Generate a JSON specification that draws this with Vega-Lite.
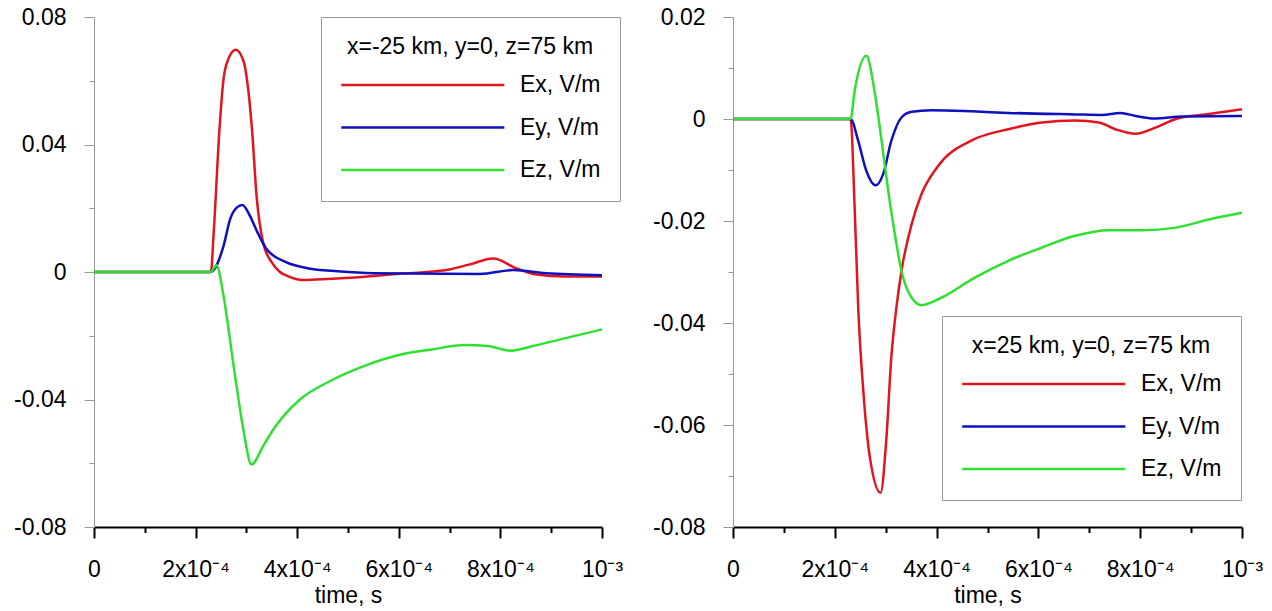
{
  "$schema": "https://vega.github.io/schema/vega-lite/v6.json",
  "background": "white",
  "padding": {"left": 13, "top": 6, "right": 5, "bottom": 0},
  "spacing": 29,
  "datasets": {
    "left": [
      {"t": 0, "c": "Ex", "E": 0},
      {"t": 0.00023, "c": "Ex", "E": 0},
      {"t": 0.000236, "c": "Ex", "E": 0.0134},
      {"t": 0.000247, "c": "Ex", "E": 0.0448},
      {"t": 0.000255, "c": "Ex", "E": 0.0605},
      {"t": 0.000262, "c": "Ex", "E": 0.0658},
      {"t": 0.000279, "c": "Ex", "E": 0.0697},
      {"t": 0.000295, "c": "Ex", "E": 0.0658},
      {"t": 0.000301, "c": "Ex", "E": 0.0605},
      {"t": 0.000311, "c": "Ex", "E": 0.0448},
      {"t": 0.00032, "c": "Ex", "E": 0.0239},
      {"t": 0.000333, "c": "Ex", "E": 0.0092},
      {"t": 0.00035, "c": "Ex", "E": 0.003},
      {"t": 0.000366, "c": "Ex", "E": 0},
      {"t": 0.00038, "c": "Ex", "E": -0.0012},
      {"t": 0.000412, "c": "Ex", "E": -0.0025},
      {"t": 0.00046, "c": "Ex", "E": -0.0022},
      {"t": 0.000504, "c": "Ex", "E": -0.0018},
      {"t": 0.000596, "c": "Ex", "E": -0.0006},
      {"t": 0.000694, "c": "Ex", "E": 0.0006},
      {"t": 0.00074, "c": "Ex", "E": 0.0024},
      {"t": 0.000786, "c": "Ex", "E": 0.0042},
      {"t": 0.000832, "c": "Ex", "E": 0.0011},
      {"t": 0.000871, "c": "Ex", "E": -0.0008},
      {"t": 0.000924, "c": "Ex", "E": -0.0014},
      {"t": 0.001, "c": "Ex", "E": -0.0014},
      {"t": 0, "c": "Ey", "E": 0},
      {"t": 0.00023, "c": "Ey", "E": 0},
      {"t": 0.000255, "c": "Ey", "E": 0.0082},
      {"t": 0.000268, "c": "Ey", "E": 0.0166},
      {"t": 0.000281, "c": "Ey", "E": 0.0202},
      {"t": 0.000292, "c": "Ey", "E": 0.021},
      {"t": 0.000307, "c": "Ey", "E": 0.0176},
      {"t": 0.000319, "c": "Ey", "E": 0.0134},
      {"t": 0.00034, "c": "Ey", "E": 0.0071},
      {"t": 0.000379, "c": "Ey", "E": 0.003},
      {"t": 0.00042, "c": "Ey", "E": 0.0012},
      {"t": 0.00048, "c": "Ey", "E": 0.0002},
      {"t": 0.00055, "c": "Ey", "E": -0.0004},
      {"t": 0.00076, "c": "Ey", "E": -0.0006},
      {"t": 0.000825, "c": "Ey", "E": 0.0006},
      {"t": 0.00089, "c": "Ey", "E": -0.0004},
      {"t": 0.001, "c": "Ey", "E": -0.001},
      {"t": 0, "c": "Ez", "E": 0},
      {"t": 0.00023, "c": "Ez", "E": 0},
      {"t": 0.000241, "c": "Ez", "E": 0.0021},
      {"t": 0.000255, "c": "Ez", "E": -0.0075},
      {"t": 0.000274, "c": "Ez", "E": -0.0285},
      {"t": 0.000294, "c": "Ez", "E": -0.0494},
      {"t": 0.00031, "c": "Ez", "E": -0.0604},
      {"t": 0.000333, "c": "Ez", "E": -0.0546},
      {"t": 0.000353, "c": "Ez", "E": -0.0494},
      {"t": 0.000373, "c": "Ez", "E": -0.0452},
      {"t": 0.000406, "c": "Ez", "E": -0.0399},
      {"t": 0.000465, "c": "Ez", "E": -0.0342},
      {"t": 0.000535, "c": "Ez", "E": -0.0293},
      {"t": 0.000596, "c": "Ez", "E": -0.0262},
      {"t": 0.000665, "c": "Ez", "E": -0.0243},
      {"t": 0.00073, "c": "Ez", "E": -0.0229},
      {"t": 0.000775, "c": "Ez", "E": -0.0232},
      {"t": 0.000819, "c": "Ez", "E": -0.0247},
      {"t": 0.000862, "c": "Ez", "E": -0.0233},
      {"t": 0.000924, "c": "Ez", "E": -0.0209},
      {"t": 0.001, "c": "Ez", "E": -0.018}
    ],
    "right": [
      {"t": 0, "c": "Ex", "E": 0},
      {"t": 0.000231, "c": "Ex", "E": 0},
      {"t": 0.000239, "c": "Ex", "E": -0.0174},
      {"t": 0.000246, "c": "Ex", "E": -0.037},
      {"t": 0.000256, "c": "Ex", "E": -0.0533},
      {"t": 0.000269, "c": "Ex", "E": -0.0664},
      {"t": 0.00029, "c": "Ex", "E": -0.0733},
      {"t": 0.000301, "c": "Ex", "E": -0.0631},
      {"t": 0.000311, "c": "Ex", "E": -0.0468},
      {"t": 0.000321, "c": "Ex", "E": -0.037},
      {"t": 0.000331, "c": "Ex", "E": -0.0298},
      {"t": 0.000351, "c": "Ex", "E": -0.0206},
      {"t": 0.00037, "c": "Ex", "E": -0.0148},
      {"t": 0.000403, "c": "Ex", "E": -0.0092},
      {"t": 0.000469, "c": "Ex", "E": -0.0042},
      {"t": 0.000541, "c": "Ex", "E": -0.002},
      {"t": 0.000607, "c": "Ex", "E": -0.0007},
      {"t": 0.000672, "c": "Ex", "E": -0.0003},
      {"t": 0.000719, "c": "Ex", "E": -0.0007},
      {"t": 0.000751, "c": "Ex", "E": -0.002},
      {"t": 0.000791, "c": "Ex", "E": -0.0029},
      {"t": 0.00083, "c": "Ex", "E": -0.0017},
      {"t": 0.00087, "c": "Ex", "E": 0},
      {"t": 0.000935, "c": "Ex", "E": 0.001},
      {"t": 0.001, "c": "Ex", "E": 0.0019},
      {"t": 0, "c": "Ey", "E": 0},
      {"t": 0.000231, "c": "Ey", "E": 0},
      {"t": 0.000246, "c": "Ey", "E": -0.0043},
      {"t": 0.000262, "c": "Ey", "E": -0.0102},
      {"t": 0.00028, "c": "Ey", "E": -0.013},
      {"t": 0.000295, "c": "Ey", "E": -0.0108},
      {"t": 0.000311, "c": "Ey", "E": -0.0043},
      {"t": 0.000331, "c": "Ey", "E": 0.0003},
      {"t": 0.000351, "c": "Ey", "E": 0.0014},
      {"t": 0.00039, "c": "Ey", "E": 0.0017},
      {"t": 0.000469, "c": "Ey", "E": 0.0015},
      {"t": 0.000541, "c": "Ey", "E": 0.0012},
      {"t": 0.000672, "c": "Ey", "E": 0.0009},
      {"t": 0.000725, "c": "Ey", "E": 0.0008},
      {"t": 0.000761, "c": "Ey", "E": 0.0012},
      {"t": 0.000791, "c": "Ey", "E": 0.0006},
      {"t": 0.000827, "c": "Ey", "E": 0.0001},
      {"t": 0.000883, "c": "Ey", "E": 0.0005},
      {"t": 0.001, "c": "Ey", "E": 0.0006},
      {"t": 0, "c": "Ez", "E": 0},
      {"t": 0.000231, "c": "Ez", "E": 0},
      {"t": 0.000239, "c": "Ez", "E": 0.0055},
      {"t": 0.000262, "c": "Ez", "E": 0.0124},
      {"t": 0.000278, "c": "Ez", "E": 0.0055},
      {"t": 0.000292, "c": "Ez", "E": -0.0043},
      {"t": 0.000305, "c": "Ez", "E": -0.0141},
      {"t": 0.000318, "c": "Ez", "E": -0.0226},
      {"t": 0.000331, "c": "Ez", "E": -0.0298},
      {"t": 0.000347, "c": "Ez", "E": -0.0344},
      {"t": 0.00037, "c": "Ez", "E": -0.0365},
      {"t": 0.00041, "c": "Ez", "E": -0.035},
      {"t": 0.000475, "c": "Ez", "E": -0.0311},
      {"t": 0.000541, "c": "Ez", "E": -0.0278},
      {"t": 0.000607, "c": "Ez", "E": -0.0252},
      {"t": 0.000672, "c": "Ez", "E": -0.0229},
      {"t": 0.000738, "c": "Ez", "E": -0.0218},
      {"t": 0.000804, "c": "Ez", "E": -0.0218},
      {"t": 0.00087, "c": "Ez", "E": -0.0213},
      {"t": 0.000935, "c": "Ez", "E": -0.0197},
      {"t": 0.001, "c": "Ez", "E": -0.0184}
    ]
  },
  "hconcat": [
    {
      "width": 508,
      "height": 510,
      "data": {"name": "left"},
      "mark": {"type": "line", "interpolate": "monotone", "strokeWidth": 2.5},
      "encoding": {
        "x": {
          "field": "t", "type": "quantitative",
          "scale": {"domain": [0, 0.001], "nice": false, "zero": false},
          "axis": {
            "title": "time, s",
            "values": [0, 0.0001, 0.0002, 0.0003, 0.0004, 0.0005, 0.0006, 0.0007, 0.0008, 0.0009, 0.001],
            "labelExpr": "round(datum.value*10000) % 2 !== 0 ? '' : (round(datum.value*10000) === 0 ? '0' : (round(datum.value*10000) === 10 ? '10⁻³' : round(datum.value*10000) + 'x10⁻⁴'))",
            "tickSize": {"condition": {"test": "round(datum.value*10000) % 2 === 0", "value": 11}, "value": 5.5},
            "labelPadding": 20,
            "titlePadding": 3
          }
        },
        "y": {
          "field": "E", "type": "quantitative",
          "scale": {"domain": [-0.08, 0.08], "nice": false, "zero": false},
          "axis": {
            "title": null,
            "values": [-0.08, -0.06, -0.04, -0.02, 0, 0.02, 0.04, 0.06, 0.08],
            "labelExpr": "round(datum.value*100) % 4 === 0 ? '' + datum.value : ''",
            "tickSize": {"condition": {"test": "round(datum.value*100) % 4 === 0", "value": 10}, "value": 5},
            "labelPadding": 18
          }
        },
        "color": {
          "field": "c", "type": "nominal",
          "scale": {"domain": ["Ex", "Ey", "Ez"], "range": ["#e0161e", "#1010c0", "#30e030"]},
          "legend": {
            "title": "x=-25 km, y=0, z=75 km",
            "orient": "none", "legendX": 227, "legendY": 0,
            "direction": "vertical",
            "labelExpr": "datum.label + ', V/m'",
            "titleAnchor": "middle",
            "titleFontSize": 23, "titleFontWeight": "normal", "titleLimit": 400, "titlePadding": 6, "titleColor": "black",
            "labelFontSize": 23, "labelLimit": 300, "labelColor": "black", "labelOffset": 140,
            "symbolType": "M-1,0H7.7", "symbolSize": 1406, "symbolStrokeWidth": 2.5,
            "padding": 19, "rowPadding": 10.5,
            "strokeColor": "#999999", "fillColor": "white"
          }
        }
      }
    },
    {
      "width": 509,
      "height": 510,
      "data": {"name": "right"},
      "mark": {"type": "line", "interpolate": "monotone", "strokeWidth": 2.5},
      "encoding": {
        "x": {
          "field": "t", "type": "quantitative",
          "scale": {"domain": [0, 0.001], "nice": false, "zero": false},
          "axis": {
            "title": "time, s",
            "values": [0, 0.0001, 0.0002, 0.0003, 0.0004, 0.0005, 0.0006, 0.0007, 0.0008, 0.0009, 0.001],
            "labelExpr": "round(datum.value*10000) % 2 !== 0 ? '' : (round(datum.value*10000) === 0 ? '0' : (round(datum.value*10000) === 10 ? '10⁻³' : round(datum.value*10000) + 'x10⁻⁴'))",
            "tickSize": {"condition": {"test": "round(datum.value*10000) % 2 === 0", "value": 11}, "value": 5.5},
            "labelPadding": 20,
            "titlePadding": 3
          }
        },
        "y": {
          "field": "E", "type": "quantitative",
          "scale": {"domain": [-0.08, 0.02], "nice": false, "zero": false},
          "axis": {
            "title": null,
            "values": [-0.08, -0.07, -0.06, -0.05, -0.04, -0.03, -0.02, -0.01, 0, 0.01, 0.02],
            "labelExpr": "round(datum.value*100) % 2 === 0 ? '' + datum.value : ''",
            "tickSize": {"condition": {"test": "round(datum.value*100) % 2 === 0", "value": 10}, "value": 5},
            "labelPadding": 18
          }
        },
        "color": {
          "field": "c", "type": "nominal",
          "scale": {"domain": ["Ex", "Ey", "Ez"], "range": ["#e0161e", "#1010c0", "#30e030"]},
          "legend": {
            "title": "x=25 km, y=0, z=75 km",
            "orient": "none", "legendX": 209, "legendY": 299,
            "direction": "vertical",
            "labelExpr": "datum.label + ', V/m'",
            "titleAnchor": "middle",
            "titleFontSize": 23, "titleFontWeight": "normal", "titleLimit": 400, "titlePadding": 6, "titleColor": "black",
            "labelFontSize": 23, "labelLimit": 300, "labelColor": "black", "labelOffset": 140,
            "symbolType": "M-1,0H7.7", "symbolSize": 1406, "symbolStrokeWidth": 2.5,
            "padding": 19, "rowPadding": 10.5,
            "strokeColor": "#999999", "fillColor": "white"
          }
        }
      }
    }
  ],
  "resolve": {
    "scale": {"x": "independent", "y": "independent", "color": "independent"},
    "axis": {"x": "independent", "y": "independent"},
    "legend": {"color": "independent"}
  },
  "config": {
    "font": "Liberation Sans",
    "view": {"stroke": null},
    "axis": {
      "grid": false,
      "labelFont": "Liberation Sans", "labelFontSize": 23, "labelColor": "black",
      "titleFont": "Liberation Sans", "titleFontSize": 23, "titleFontWeight": "normal", "titleColor": "black",
      "labelOverlap": false, "labelFlush": false, "labelBound": false
    },
    "axisX": {"domainColor": "black", "domainWidth": 2, "tickColor": "black", "tickWidth": 2},
    "axisY": {"domainColor": "#999999", "domainWidth": 1, "tickColor": "#999999", "tickWidth": 1}
  }
}
